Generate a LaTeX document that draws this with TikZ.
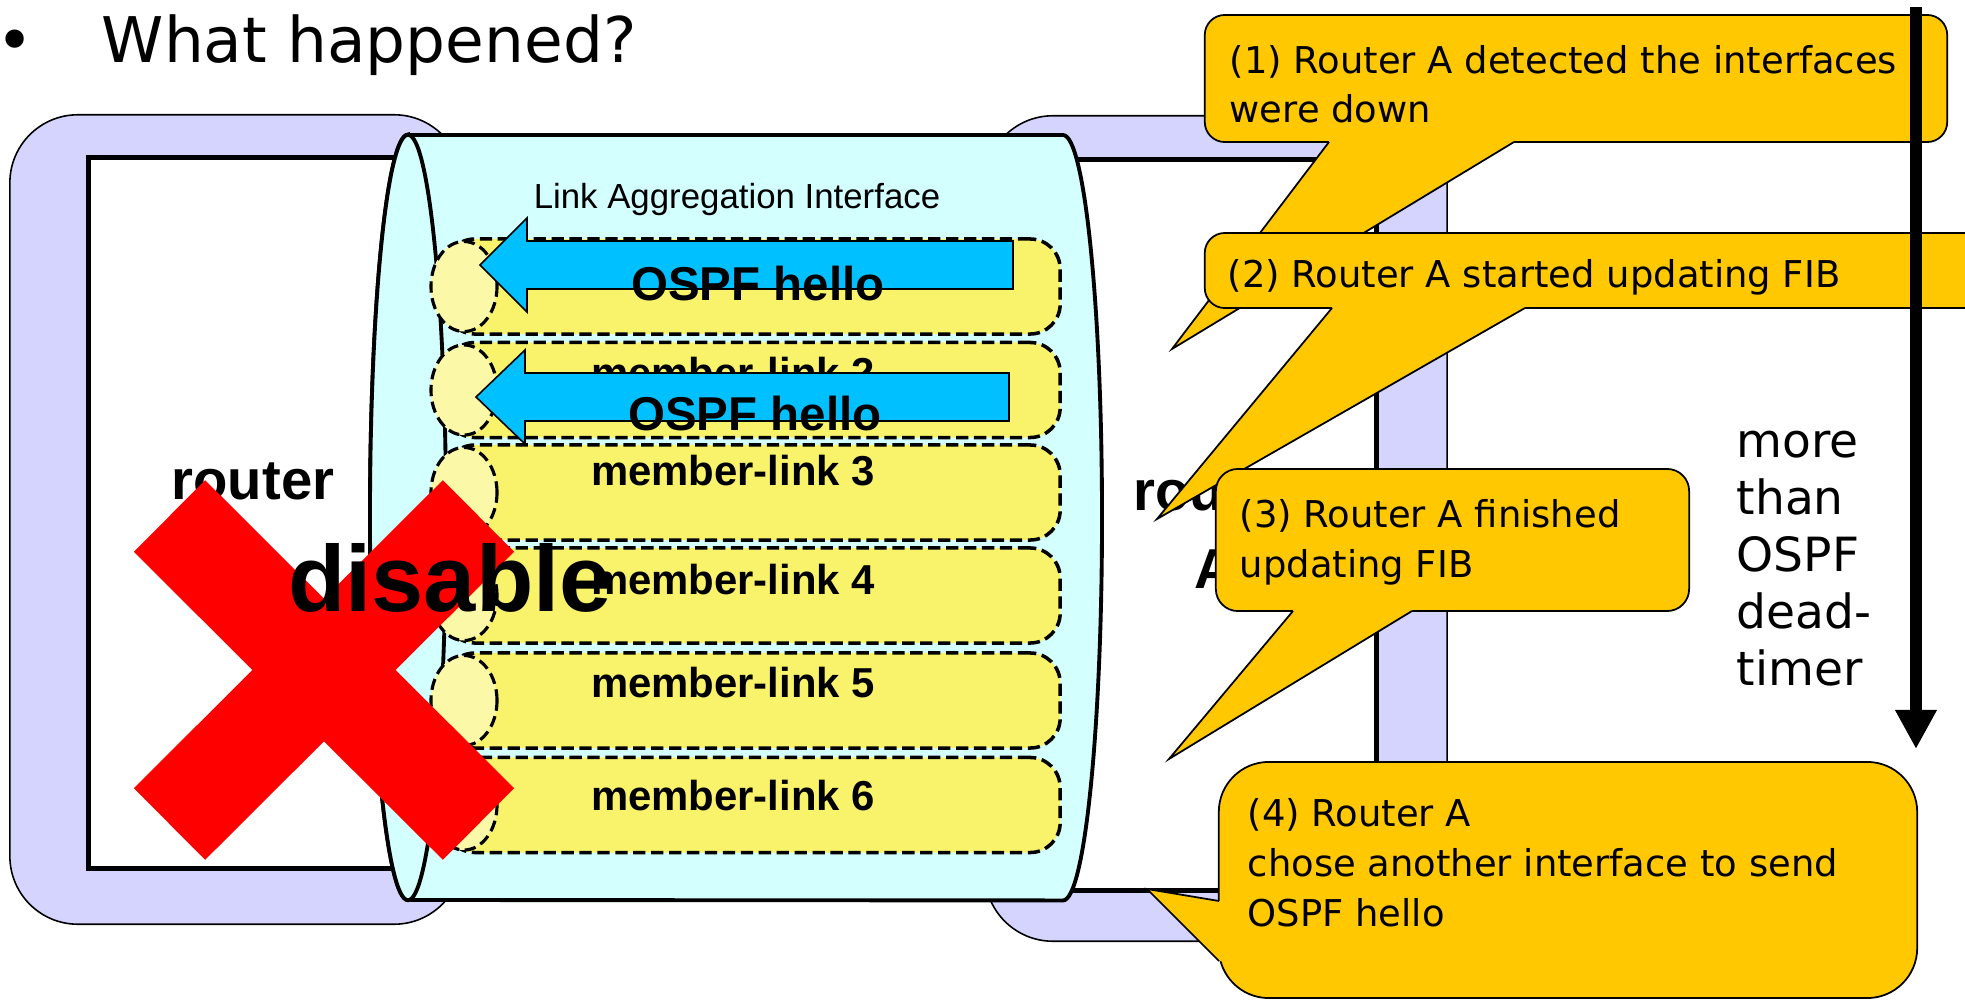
\documentclass[tikz,border=0pt]{standalone}
\usepackage{fontspec}
\setmainfont{DejaVu Sans}
\newfontfamily\gothic{Liberation Sans}
\usepackage{xcolor}
\definecolor{routerbg}{HTML}{D4D4FF}
\definecolor{cylbg}{HTML}{D4FFFF}
\definecolor{linkbg}{HTML}{F9F36C}
\definecolor{portbg}{HTML}{FBF8A8}
\definecolor{hellobg}{HTML}{00C0FF}
\definecolor{notebg}{HTML}{FFC800}
\usetikzlibrary{shapes.geometric, arrows.meta}

\begin{document}
\begin{tikzpicture}[x=0.01cm, y=-0.01cm,
    router/.style={rectangle, draw=black, line width=0.45pt, fill=routerbg,
        rounded corners=0.68cm},
    routerin/.style={rectangle, draw=black, line width=1.4pt, fill=white},
    rlabel/.style={align=center, anchor=base, inner sep=0pt,
        font=\gothic\bfseries\fontsize{16}{21.9}\selectfont},
    cyl/.style={draw=black, line width=1.1pt, fill=cylbg},
    member/.style={rectangle, draw=black, fill=linkbg, line width=1pt,
        dash pattern=on 3.5pt off 1.6pt, rounded corners=0.3cm,
        minimum width=6.15cm, minimum height=0.95cm},
    port/.style={ellipse, draw=black, fill=portbg, line width=0.9pt,
        dash pattern=on 3.2pt off 1.6pt, inner sep=0pt,
        minimum width=0.66cm, minimum height=0.9cm},
    mlabel/.style={font=\gothic\bfseries\fontsize{11.9}{14}\selectfont,
        anchor=base, inner sep=0pt},
    hello/.style={draw=black, line width=0.45pt, fill=hellobg},
    hlabel/.style={font=\gothic\bfseries\fontsize{13.5}{16}\selectfont,
        anchor=base, inner sep=0pt},
    cross/.style={draw=red, line width=1.01cm},
    note/.style={rectangle, draw=black, line width=0.5pt, fill=notebg,
        rounded corners=0.2cm},
    pointer/.style={draw=black, line width=0.5pt},
    notetext/.style={font=\fontsize{10.5}{14.2}\selectfont, align=left,
        anchor=base west, inner sep=0pt},
    timearr/.style={-{Triangle[length=0.39cm, width=0.39cm]}, line width=0.12cm}
]

\useasboundingbox (0,0) rectangle (1965,1000);
\clip (0,0) rectangle (1965,1000);
\fill[white] (0,0) rectangle (1965,1000);

% Routers (behind the bundle)
\node[router, minimum width=4.52cm, minimum height=8.09cm] (rB) at (236,519.5) {};
\node[routerin, minimum width=3.28cm, minimum height=7.10cm] (rBin) at (253,513) {};
\node[rlabel] (rBtxt) at (253,577) {router\\B};
\node[router, minimum width=4.62cm, minimum height=8.25cm] (rA) at (1216,528.5) {};
\node[routerin, minimum width=3.22cm, minimum height=7.30cm] (rAin) at (1215,525) {};
\node[rlabel] (rAtxt) at (1215,588) {router\\A};

% Link aggregation bundle (cylinder)
\draw[cyl] (408,135) -- (1063,135)
    arc[start angle=90, end angle=-90, x radius=0.39cm, y radius=3.825cm]
    -- (408,900)
    arc[start angle=270, end angle=90, x radius=0.38cm, y radius=3.825cm] -- cycle;
\draw[cyl] (408,517.5) ellipse [x radius=0.38cm, y radius=3.825cm];
\node[font=\gothic\fontsize{9.9}{12}\selectfont, anchor=base, inner sep=0pt]
    (lag) at (737,208) {Link Aggregation Interface};

% Member links
\node[member] (l1) at (752.5,286.5) {};
\node[member] (l2) at (752.5,390) {};
\node[member] (l3) at (752.5,492.5) {};
\node[member] (l4) at (752.5,595.5) {};
\node[member] (l5) at (752.5,700.5) {};
\node[member] (l6) at (752.5,805) {};

% Ports at router B side
\node[port] (p1) at (464,286.5) {};
\node[port] (p2) at (464,390) {};
\node[port] (p3) at (464,492.5) {};
\node[port] (p4) at (464,595.5) {};
\node[port] (p5) at (464,700.5) {};
\node[port] (p6) at (464,805) {};

\node[mlabel] (m2) at (733,387) {member-link 2};
\node[mlabel] (m3) at (733,485) {member-link 3};
\node[mlabel] (m4) at (733,594) {member-link 4};
\node[mlabel] (m5) at (733,697) {member-link 5};
\node[mlabel] (m6) at (733,810) {member-link 6};

% OSPF hello packets
\draw[hello] (1013,241) -- (527,241) -- (527,218) -- (480,265) -- (527,312)
    -- (527,289) -- (1013,289) -- cycle;
\draw[hello] (1009,373) -- (525,373) -- (525,350) -- (476,397) -- (525,444)
    -- (525,421) -- (1009,421) -- cycle;
\node[hlabel] (h1) at (758,300) {OSPF hello};
\node[hlabel] (h2) at (755,430) {OSPF hello};

% Router B disabled
\coordinate (xa) at (169.5,516);
\coordinate (xb) at (478.5,824);
\coordinate (xc) at (478.5,516);
\coordinate (xd) at (169.5,824);
\draw[cross] (xa) -- (xb);
\draw[cross] (xc) -- (xd);
\node[font=\gothic\bfseries\fontsize{26.7}{30}\selectfont, anchor=base, inner sep=0pt]
    (dis) at (450,611) {disable};

% Callouts (1)-(4)
\node[note, minimum width=7.42cm, minimum height=1.27cm] (c1) at (1576,78.5) {};
\fill[notebg] (1329,142) -- (1172,349) -- (1514,142) -- (1514,138) -- (1329,138) -- cycle;
\draw[pointer] (1329,142) -- (1172,349) -- (1514,142);
\node[notetext] (t1) at (1229,123) {(1) Router A detected the interfaces\\were down};

\node[note, minimum width=7.85cm, minimum height=0.75cm] (c2) at (1597.5,270.5) {};
\fill[notebg] (1332,308) -- (1157,519) -- (1525,308) -- (1525,304) -- (1332,304) -- cycle;
\draw[pointer] (1332,308) -- (1157,519) -- (1525,308);
\node[notetext] (t2) at (1227,287) {(2) Router A started updating FIB};

\node[note, minimum width=4.73cm, minimum height=1.42cm, rounded corners=0.22cm]
    (c3) at (1452.5,540) {};
\fill[notebg] (1293,611) -- (1169,759) -- (1412,611) -- (1412,607) -- (1293,607) -- cycle;
\draw[pointer] (1293,611) -- (1169,759) -- (1412,611);
\node[notetext] (t3) at (1239,577) {(3) Router A finished\\updating FIB};

\node[note, minimum width=6.98cm, minimum height=2.36cm, rounded corners=0.5cm]
    (c4) at (1568,880) {};
\fill[notebg] (1219,901) -- (1147,889) -- (1219,961) -- (1223,961) -- (1223,901) -- cycle;
\draw[pointer] (1219,901) -- (1147,889) -- (1219,961);
\node[notetext] (t4) at (1247,926) {(4) Router A\\chose another interface to send\\OSPF hello};

% Time line
\coordinate (tTop) at (1916,7);
\coordinate (tEnd) at (1916,749);
\draw[timearr] (tTop) -- (tEnd);
\node[font=\fontsize{13.4}{16.2}\selectfont, align=left, anchor=base west, inner sep=0pt]
    (tlab) at (1736,685) {more\\than\\OSPF\\dead-\\timer};

% Title
\node[font=\fontsize{17.9}{20}\selectfont, anchor=base west, inner sep=0pt]
    (ttl) at (-4,62) {•\hspace{0.68cm}What happened?};

\end{tikzpicture}
\end{document}
